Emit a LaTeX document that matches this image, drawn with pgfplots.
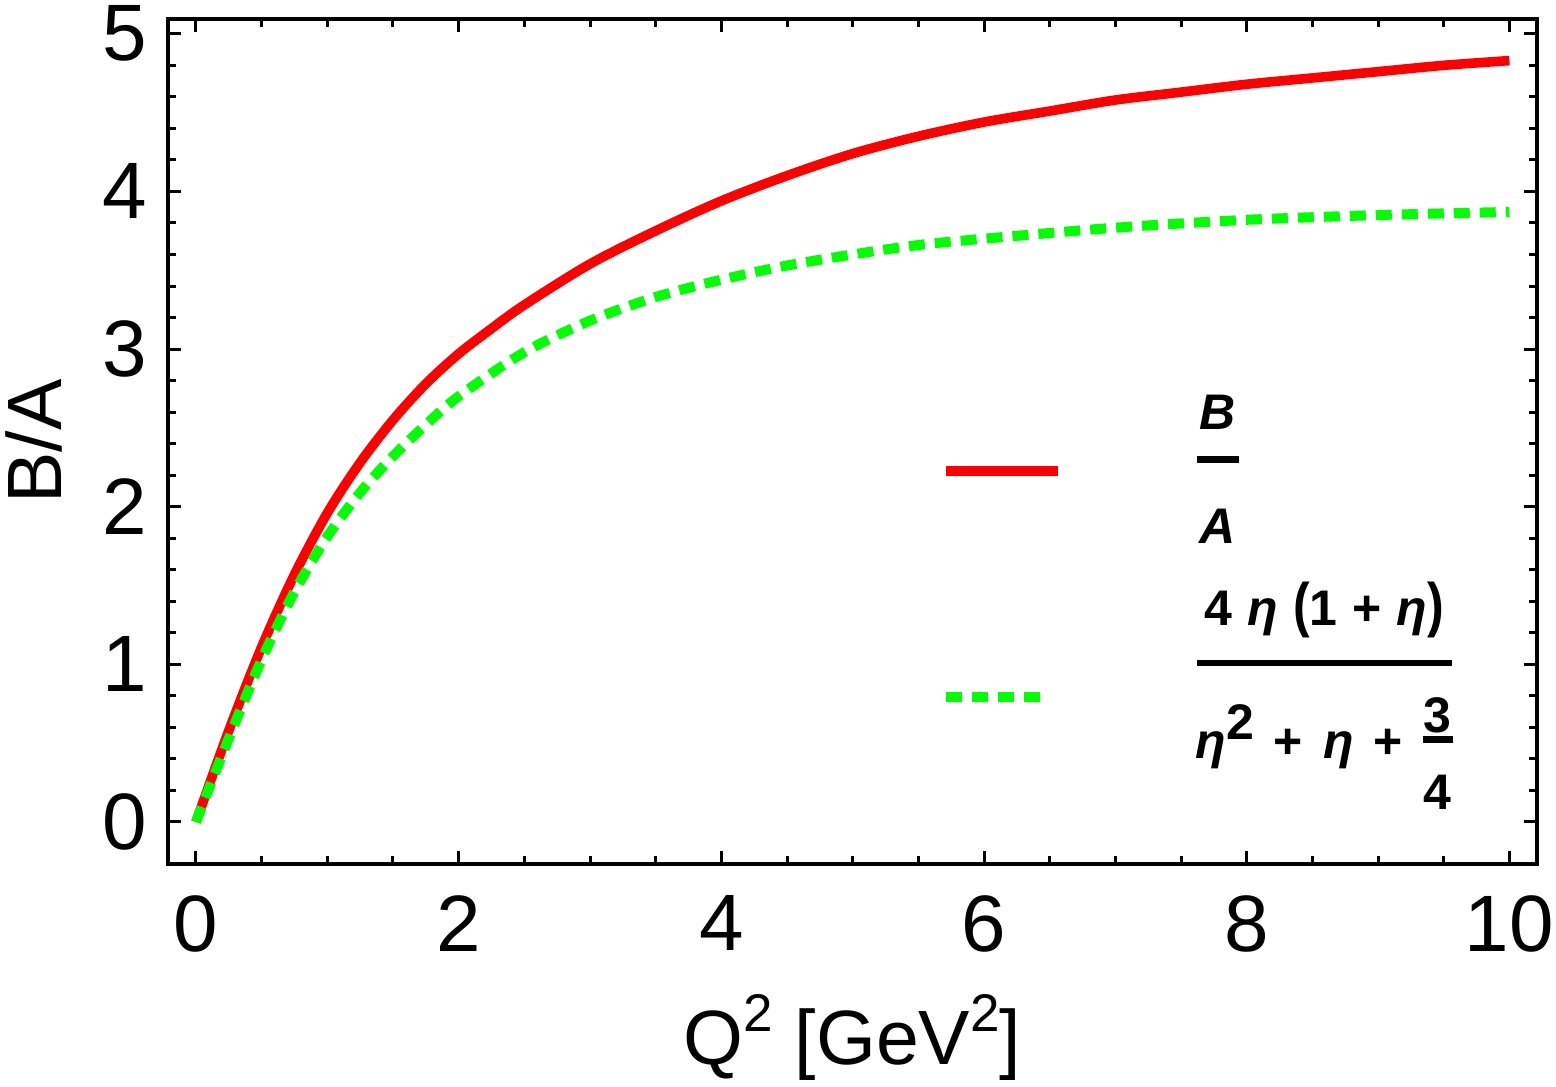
\documentclass[border=0pt]{standalone}
\usepackage{fontspec}
\setmainfont{Liberation Sans}
\usepackage{graphicx}
\usepackage{pgfplots}
\pgfplotsset{compat=1.18}
\pgfplotsset{short legend/.style={legend image code/.code={\draw[##1] (0pt,0pt) -- (50pt,0pt);}}}
\definecolor{mred}{rgb}{1,0,0}
\definecolor{mgreen}{rgb}{0,1,0}
\newcommand\entryA{\vbox{\offinterlineskip
  \hbox to 21pt{\hss\textit{B}\hss}%
  \kern13.5pt
  \hrule height3.5pt width21pt
  \kern23pt
  \hbox to 21pt{\hss\textit{A}\hss}\kern0pt}}
\newcommand\smallfrac{\lower25.5pt\vbox{\offinterlineskip
  \hbox to 15pt{\hss 3\hss}%
  \kern1.5pt
  \hrule height3.5pt width15pt
  \kern16pt
  \hbox to 15pt{\hss 4\hss}}}
\newcommand\bigparen[1]{\scalebox{1}[1.2]{#1}}
\newcommand\entryB{\vbox{\offinterlineskip
  \hbox to 127.5pt{\hss 4\hspace{0.3em}\textit{η}\hspace{0.3em}\bigparen{(}1\hspace{0.3em}+\hspace{0.3em}\textit{η}\bigparen{)}\hss}%
  \kern11pt
  \hrule height3pt width127.5pt
  \kern16pt
  \hbox to 127.5pt{\hss\textit{η}\raisebox{9.5pt}{2}\hspace{0.4em}+\hspace{0.4em}\textit{η}\hspace{0.4em}+\hspace{0.4em}\smallfrac\hss}\kern0pt}}
\pgfplotstableread{
x y
0 0
0.25 0.58
0.5 1.11
0.75 1.57
1.0 1.96
1.25 2.28
1.5 2.55
1.75 2.78
2.0 2.97
2.25 3.13
2.5 3.28
3.0 3.54
3.5 3.75
4.0 3.94
4.5 4.10
5.0 4.24
5.5 4.35
6.0 4.44
6.5 4.51
7.0 4.58
7.5 4.63
8.0 4.68
8.5 4.72
9.0 4.76
9.5 4.80
10 4.83
}\redtable
\pgfplotstableread{
x y
0 0
0.25 0.53
0.5 1.03
0.75 1.46
1.0 1.81
1.25 2.09
1.5 2.32
1.75 2.52
2.0 2.70
2.5 2.98
3.0 3.18
3.5 3.33
4.0 3.44
4.5 3.53
5.0 3.60
5.5 3.66
6.0 3.70
7.0 3.77
8.0 3.82
9.0 3.85
10 3.87
}\greentable
\begin{document}
\begin{tikzpicture}
\path[use as bounding box] (-84pt,-111pt) rectangle (694pt,432pt);
\begin{axis}[
  at={(0,0)}, anchor=south west,
  scale only axis, width=684.5pt, height=422.5pt,
  xmin=-0.213, xmax=10.21, ymin=-0.267, ymax=5.094,
  xtick={0,2,4,6,8,10}, ytick={0,1,2,3,4,5},
  minor x tick num=3, minor y tick num=4,
  tick align=inside,
  major tick length=6.5pt, minor tick length=4pt,
  every tick/.style={black, line width=1.5pt},
  axis line style={line width=2.2pt},
  /pgf/number format/assume math mode=true,
  xticklabel style={font=\fontsize{40}{44}\selectfont, inner sep=0pt, anchor=north, yshift=-15.5pt},
  yticklabel style={font=\fontsize{40}{44}\selectfont, inner sep=0pt, anchor=east, xshift=-10.5pt},
  xlabel={Q\raisebox{0.42em}{\fontsize{26.5}{28}\selectfont 2} [GeV\raisebox{0.42em}{\fontsize{26.5}{28}\selectfont 2}]},
  ylabel={B/A},
  every axis x label/.style={at={(axis description cs:0.5,0)}, anchor=base, yshift=-100pt, inner sep=0pt, font=\fontsize{38.5}{42}\selectfont},
  every axis y label/.style={at={(axis description cs:0,0.5)}, xshift=-52.5pt, rotate=90, anchor=south, inner sep=0pt, font=\fontsize{38.5}{42}\selectfont},
  legend style={at={(axis description cs:0.5646,0.555)}, anchor=north west, draw=none, fill=none, inner sep=0pt, outer sep=0pt, row sep=17.5pt, column sep=67pt, font=\fontsize{25}{30}\selectfont\bfseries, nodes={inner sep=0pt}},
  legend cell align=left,
  legend image code/.code={\draw[#1] (0pt,0pt) -- (56pt,0pt);},
]
\addplot[mred, line width=4.8pt, smooth] table[x=x,y=y] {\redtable};
\addlegendentry{\entryA}
\addplot[mgreen, line width=5pt, dash pattern=on 8pt off 5pt, smooth, short legend] table[x=x,y=y] {\greentable};
\addlegendentry{\entryB}
\end{axis}
\end{tikzpicture}
\end{document}
